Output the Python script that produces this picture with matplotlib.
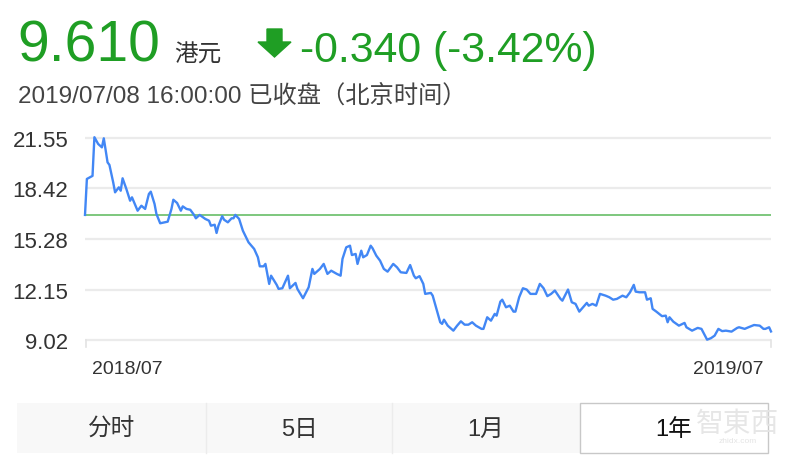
import numpy as np
import matplotlib
matplotlib.use('Agg')
import matplotlib.pyplot as plt
from matplotlib.patches import Rectangle, Polygon

# dati: giorni dal 2018/07/09 e prezzo (HKD)
giorni = [0, 1, 4, 5, 7, 9, 10, 12, 13, 15, 16, 18, 19, 20, 22, 24, 25, 28, 30, 32,
          34, 35, 37, 38, 40, 44, 46, 47, 49, 51, 52, 54, 56, 58, 59, 61,
          64, 66, 67, 69, 70, 71, 73, 74, 76, 78, 79, 80, 82, 84, 87, 90, 92, 93,
          95, 96, 97, 98, 99, 102, 103, 105, 108, 109, 112, 113, 116, 119, 121, 122, 125,
          127, 129, 131, 134, 136, 137, 139, 141, 142, 144, 145, 147, 148, 150, 152, 153,
          155, 157, 159, 161, 164, 166, 168, 171, 173, 175, 176, 178, 180, 181, 184, 185,
          187, 189,
          190, 191, 193, 196, 198, 200, 202, 204, 206, 208, 211, 212, 214, 216, 218, 219,
          221, 222, 224, 226, 228, 229, 231, 233, 235, 237, 240, 242, 244, 246, 248, 250, 253,
          254, 257, 259, 261, 263, 265, 267, 268, 270, 272, 274, 277, 279, 281, 283, 286,
          288, 290, 292, 293, 295, 298, 299, 301, 302, 304, 307, 309, 310, 311, 313, 316,
          319, 320, 323, 326, 328, 331, 333, 335, 337, 339, 341, 344, 347, 348, 351, 353,
          356, 359, 361, 362, 364, 365]
prezzi = [16.78, 19.01, 19.20, 21.60, 21.18, 20.97, 21.53, 20.04, 19.88, 18.80, 18.18, 18.49,
          18.28, 19.05, 18.39, 17.66, 17.87, 17.04, 17.35, 17.15, 18.08, 18.22, 17.46, 16.84,
          16.26, 16.36, 17.15, 17.72, 17.52, 17.04, 17.31, 17.15, 17.10, 16.78, 16.57, 16.78,
          16.53, 16.42, 16.11, 16.17, 15.66, 16.11, 16.70, 16.48, 16.32, 16.57, 16.57, 16.78,
          16.53, 15.80, 15.08, 14.67, 14.15, 13.59, 13.59, 13.74, 13.12, 12.50, 13.01, 12.44,
          12.19, 12.23, 13.01, 12.23, 12.56, 12.19, 11.61, 12.29, 13.43, 13.12, 13.43,
          13.74, 13.12, 13.32, 13.12, 13.01, 14.05, 14.77, 14.87, 14.29, 14.36, 13.74, 14.56,
          14.15, 14.29, 14.87, 14.71, 14.25, 13.94, 13.43, 13.26, 13.74, 13.53, 13.22, 13.18,
          13.67, 13.01, 12.85, 12.98, 12.50, 11.88, 11.94, 11.77, 10.95, 10.12,
          10.02, 10.28, 9.91, 9.60, 9.91, 10.18, 9.97, 9.97, 10.12, 9.91, 9.71, 9.71, 10.43,
          10.22, 10.64, 10.53, 11.40, 11.52, 11.05, 11.15, 10.78, 10.78, 11.67, 12.23, 12.15,
          11.88, 11.88, 12.50, 12.23, 11.74, 11.88, 12.09, 11.57,
          11.46, 12.15, 11.36, 11.26, 10.78, 11.05, 11.32, 11.15, 11.26, 11.15, 11.88, 11.77,
          11.67, 11.52, 11.57, 11.77, 11.67, 11.98, 12.44, 12.02, 11.98, 11.98, 11.52, 11.61,
          10.95, 10.78, 10.50, 10.53, 10.12, 10.43, 10.16, 9.91,
          10.08, 9.81, 9.60, 9.77, 9.71, 9.04, 9.13, 9.29, 9.71, 9.57, 9.60, 9.54, 9.77, 9.81,
          9.71, 9.81, 9.95, 9.91, 9.71, 9.71, 9.81, 9.55]

prezzo_iniziale = 16.78
tick_y = [9.02, 12.15, 15.28, 18.42, 21.55]
etichette_x = ['2018/07', '2019/07']
schede = ['分时', '5日', '1月', '1年']

W, H = 800, 456
font_lat = ['Liberation Sans', 'Noto Sans CJK SC', 'DejaVu Sans']
plt.rcParams['font.family'] = font_lat

verde = '#1f9e24'
blu = '#4287f5'


def px(x, y):  # pixel -> coordinate figura
    return x / W, 1 - y / H


fig = plt.figure(figsize=(8, 4.56), dpi=100)

# area del grafico: 9.02 -> y=341, 21.55 -> y=139, x da 85 a 771
scala = (341 - 139) / (21.55 - 9.02)
marg = 0.3
y_basso = 341 + marg * scala
y_alto = 139 - marg * scala
ax = fig.add_axes([85 / W, (H - y_basso) / H, 686 / W, (y_basso - y_alto) / H])
ax.set_xlim(0, 365)
ax.set_ylim(9.02 - marg, 21.55 + marg)

for v in tick_y:
    ax.axhline(v, color='#ebebeb', lw=1.6, zorder=1)
ax.axhline(prezzo_iniziale, color='#73c373', lw=1.3, zorder=2)
ax.plot(giorni, prezzi, color=blu, lw=1.7, zorder=3, clip_on=False, solid_joinstyle='round')

ax.set_yticks(tick_y)
ax.set_yticklabels(['%.2f' % v for v in tick_y])
ax.tick_params(axis='y', length=0, pad=12, labelsize=16, labelcolor='#333333')
ax.set_xticks([])
for s in ax.spines.values():
    s.set_visible(False)
for t in ax.get_yticklabels():
    t.set_family(font_lat)

# piccoli segni verticali sulla linea di base
for xx in (86, 771):
    fig.add_artist(plt.Line2D([xx / W, xx / W], [1 - 341 / H, 1 - 348 / H], color='#e3e3e3', lw=1.2))

fig.text(*px(92, 374), etichette_x[0], fontsize=14, color='#333333', ha='left', va='baseline')
fig.text(*px(764, 374), etichette_x[1], fontsize=14, color='#333333', ha='right', va='baseline')

# intestazione
fig.text(*px(17, 62), '9.610', fontsize=41, color=verde, ha='left', va='baseline')
fig.text(*px(174, 62), '港元', fontsize=17, color='#333333', ha='left', va='baseline')
freccia = Polygon([px(267, 30), px(282, 30), px(282, 43), px(291, 43), px(274.5, 58),
                   px(258, 43), px(267, 43)], closed=True, transform=fig.transFigure,
                  color=verde)
fig.add_artist(freccia)
fig.text(*px(300, 62), '-0.340 (-3.42%)', fontsize=30.8, color=verde, ha='left', va='baseline')
fig.text(*px(18, 103), '2019/07/08 16:00:00 已收盘（北京时间）', fontsize=17.5,
         color='#444444', ha='left', va='baseline')

# schede in basso
bordi = [17, 206, 392, 580, 768]
for i, nome in enumerate(schede):
    x0, x1 = bordi[i], bordi[i + 1]
    sel = (i == len(schede) - 1)
    r = Rectangle(px(x0, 454), (x1 - x0) / W, 50 / H, transform=fig.transFigure,
                  facecolor='white' if sel else '#f8f8f8',
                  edgecolor='#c8c8c8' if sel else 'none', lw=1.0)
    fig.add_artist(r)
    if i > 0 and not sel:
        fig.add_artist(plt.Line2D([x0 / W, x0 / W], [1 - 404 / H, 1 - 454 / H], color='#ececec', lw=1.0))
    fig.text(*px((x0 + x1) / 2, 430), nome, fontsize=17, color='#111111' if sel else '#333333',
             ha='center', va='center')

# filigrana
fig.text(*px(738, 424), '智東西', fontsize=20, color='#e4e4e4', alpha=0.9, ha='center', va='center',
         family=['Noto Sans CJK TC', 'DejaVu Sans'])
fig.text(*px(738, 442), 'zhidx.com', fontsize=6, color='#e4e4e4', ha='center', va='center')

fig.savefig('out.png', dpi=100)
